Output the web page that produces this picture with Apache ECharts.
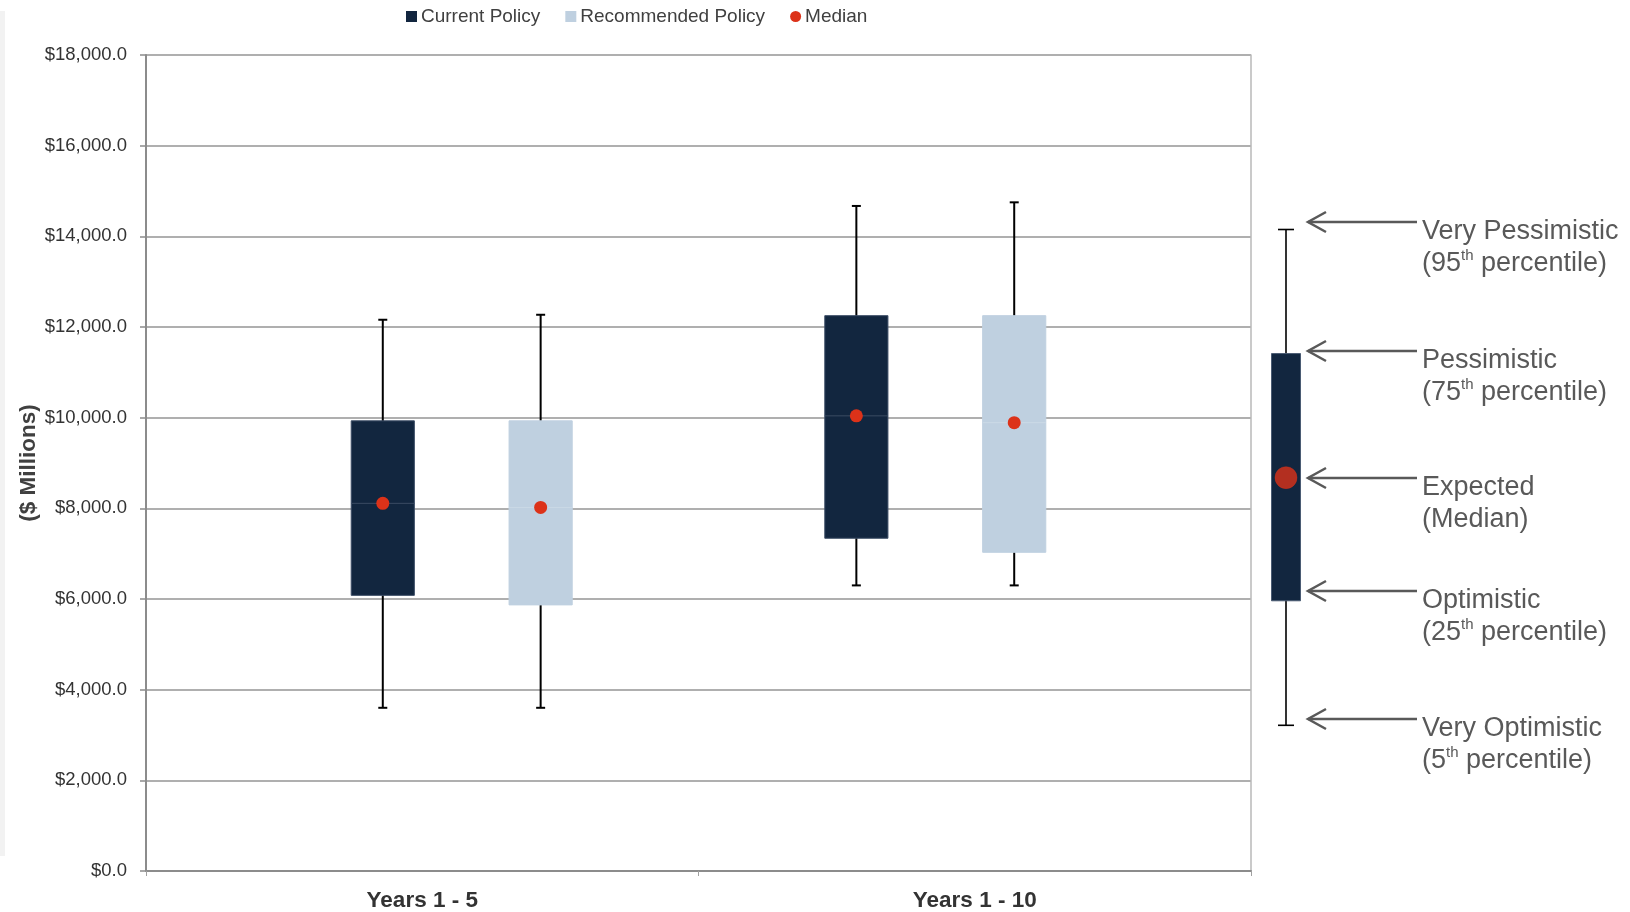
<!DOCTYPE html>
<html>
<head>
<meta charset="utf-8">
<title>Box plot</title>
<script src="https://cdn.jsdelivr.net/npm/echarts@6/dist/echarts.min.js"></script>
<style>
  html, body { margin: 0; padding: 0; background: #ffffff; }
  #chart { width: 1630px; height: 912px; }
</style>
</head>
<body>
<div id="chart"></div>
<script>
// ---------------- DATA ----------------
const categories = ['Years 1 - 5', 'Years 1 - 10'];
// box slots along the category axis (three slots per category plus padding)
const slotNames = ['pad-a', 'Years 1 - 5 Current', 'Years 1 - 5 Recommended', 'pad-b',
                   'Years 1 - 10 Current', 'Years 1 - 10 Recommended', 'pad-c'];
// [5th, 25th, median, 75th, 95th] percentile, $ millions
const currentPolicy     = [[3600, 6080, 8110, 9930, 12160], [6300, 7340, 10040, 12250, 14670]];
const recommendedPolicy = [[3600, 5870, 8020, 9930, 12270], [6300, 7030, 9890, 12250, 14750]];
const exampleBox        = [3250, 5990, 8700, 11430, 14160];
const yMin = 0, yMax = 18000, yInterval = 2000;
const seriesNames = ['Current Policy', 'Recommended Policy', 'Median'];
const annotationTexts = [
  'Very Pessimistic\n(95{sup|th} percentile)',
  'Pessimistic\n(75{sup|th} percentile)',
  'Expected\n(Median)',
  'Optimistic\n(25{sup|th} percentile)',
  'Very Optimistic\n(5{sup|th} percentile)'
];

// ---------------- STYLE / LAYOUT ----------------
const FONT = '"Liberation Sans", Arial, sans-serif';
const COL_CURRENT = '#12263F';
const COL_RECOMMENDED = '#BFD0E0';
const COL_MEDIAN = '#DC3219';
const GRID_TOP = 55, GRID_BOTTOM = 39;
const arrowYs = [222, 351, 478, 591, 719];

function boxRenderer(widthRatio, capHalf, whiskerWidth, fill, edge, medianLine) {
  return function (params, api) {
    const xi = api.value(0);
    const low = api.coord([xi, api.value(1)]);
    const q1 = api.coord([xi, api.value(2)]);
    const med = api.coord([xi, api.value(3)]);
    const q3 = api.coord([xi, api.value(4)]);
    const high = api.coord([xi, api.value(5)]);
    const bw = api.size([1, 0])[0] * widthRatio;
    const cx = low[0];
    const ws = { stroke: '#000000', lineWidth: whiskerWidth };
    const children = [
      { type: 'line', shape: { x1: cx, y1: high[1], x2: cx, y2: low[1] }, style: ws },
      { type: 'line', shape: { x1: cx - capHalf, y1: high[1], x2: cx + capHalf, y2: high[1] }, style: ws },
      { type: 'line', shape: { x1: cx - capHalf, y1: low[1], x2: cx + capHalf, y2: low[1] }, style: ws },
      { type: 'rect', shape: { x: cx - bw / 2, y: q3[1], width: bw, height: q1[1] - q3[1] },
        style: { fill: fill, stroke: edge, lineWidth: 1 } }
    ];
    if (medianLine) {
      children.push({ type: 'line', shape: { x1: cx - bw / 2, y1: med[1], x2: cx + bw / 2, y2: med[1] },
        style: { stroke: medianLine, lineWidth: 1 } });
    }
    return { type: 'group', children: children };
  };
}

const toBoxData = (arr, offset) => arr.map((d, i) => [slotNames[offset + 3 * i]].concat(d));
const medianData = currentPolicy.map((d, i) => [slotNames[1 + 3 * i], d[2]])
  .concat(recommendedPolicy.map((d, i) => [slotNames[2 + 3 * i], d[2]]));

const chart = echarts.init(document.getElementById('chart'), null, { renderer: 'canvas' });

const annotationGraphics = [];
arrowYs.forEach((y, i) => {
  annotationGraphics.push({
    type: 'polyline', silent: true,
    shape: { points: [[1417, y], [1308, y]] },
    style: { stroke: '#595959', lineWidth: 2.5, fill: null }
  });
  annotationGraphics.push({
    type: 'polyline', silent: true,
    shape: { points: [[1326, y - 10], [1308, y], [1326, y + 10]] },
    style: { stroke: '#595959', lineWidth: 2.5, fill: null }
  });
  annotationGraphics.push({
    type: 'text', silent: true, x: 1422, y: y - 6,
    style: {
      text: annotationTexts[i], fill: '#595959', fontSize: 27, fontFamily: FONT,
      lineHeight: 32, verticalAlign: 'top', align: 'left',
      rich: { sup: { fontSize: 15, fontFamily: FONT, fill: '#595959', lineHeight: 20, verticalAlign: 'top' } }
    }
  });
});
annotationGraphics.push({
  type: 'rect', silent: true, z: -10,
  shape: { x: 0, y: 11, width: 5, height: 845 },
  style: { fill: '#f2f2f2' }
});

const option = {
  backgroundColor: '#ffffff',
  animation: false,
  textStyle: { fontFamily: FONT },
  legend: {
    data: [
      { name: seriesNames[0], icon: 'rect' },
      { name: seriesNames[1], icon: 'rect' },
      { name: seriesNames[2], icon: 'circle' }
    ],
    left: 401, top: 2,
    itemWidth: 11, itemHeight: 11, itemGap: 25,
    textStyle: { fontSize: 19, color: '#404040', fontFamily: FONT, padding: [0, 0, 0, -1] }
  },
  grid: [
    { left: 146, right: 379, top: GRID_TOP, bottom: GRID_BOTTOM },
    { left: 1256, width: 60, top: GRID_TOP, bottom: GRID_BOTTOM }
  ],
  xAxis: [
    {
      type: 'category', gridIndex: 0, data: categories, boundaryGap: true,
      axisLine: { show: true, lineStyle: { color: '#8c8c8c', width: 2 } },
      axisTick: { show: true, length: 5, lineStyle: { color: '#a0a0a0', width: 1 } },
      axisLabel: { fontSize: 22.5, fontWeight: 'bold', color: '#333333', margin: 18, fontFamily: FONT },
      splitLine: { show: false }
    },
    { type: 'category', gridIndex: 0, data: slotNames, boundaryGap: true, show: false },
    { type: 'category', gridIndex: 1, data: ['example'], boundaryGap: true, show: false }
  ],
  yAxis: [
    {
      type: 'value', gridIndex: 0, min: yMin, max: yMax, interval: yInterval,
      name: '($ Millions)', nameLocation: 'middle', nameGap: 106, nameRotate: 90,
      nameMoveOverlap: false,
      nameTextStyle: { fontSize: 22.5, fontWeight: 'bold', color: '#404040', fontFamily: FONT },
      axisLine: { show: true, lineStyle: { color: '#8c8c8c', width: 2 } },
      axisTick: { show: true, length: 6, lineStyle: { color: '#8c8c8c', width: 1.5 } },
      axisLabel: {
        fontSize: 18.5, color: '#333333', margin: 19, fontFamily: FONT,
        formatter: v => '$' + v.toLocaleString('en-US', { minimumFractionDigits: 1, maximumFractionDigits: 1 })
      },
      splitLine: { show: true, lineStyle: { color: '#959595', width: 1.6 } }
    },
    {
      type: 'value', gridIndex: 1, min: yMin, max: yMax, interval: yInterval, show: false
    },
    {
      type: 'value', gridIndex: 0, min: yMin, max: yMax, interval: yInterval, position: 'right',
      axisLine: { show: true, lineStyle: { color: '#b8b8b8', width: 1.5 } },
      axisTick: { show: false }, axisLabel: { show: false }, splitLine: { show: false }
    }
  ],
  series: [
    {
      name: seriesNames[0], type: 'custom', xAxisIndex: 1, yAxisIndex: 0,
      itemStyle: { color: COL_CURRENT },
      encode: { x: 0, y: [1, 2, 3, 4, 5] },
      renderItem: boxRenderer(0.4, 4.5, 2, COL_CURRENT, '#3c4d66', '#3a4b63'),
      data: toBoxData(currentPolicy, 1), z: 3
    },
    {
      name: seriesNames[1], type: 'custom', xAxisIndex: 1, yAxisIndex: 0,
      itemStyle: { color: COL_RECOMMENDED },
      encode: { x: 0, y: [1, 2, 3, 4, 5] },
      renderItem: boxRenderer(0.4, 4.5, 2, COL_RECOMMENDED, COL_RECOMMENDED, '#cbd9e6'),
      data: toBoxData(recommendedPolicy, 2), z: 3
    },
    {
      name: seriesNames[2], type: 'scatter', xAxisIndex: 1, yAxisIndex: 0,
      symbol: 'circle', symbolSize: 13,
      itemStyle: { color: COL_MEDIAN, opacity: 1 },
      data: medianData, z: 5
    },
    {
      name: 'Example box', type: 'custom', xAxisIndex: 2, yAxisIndex: 1,
      itemStyle: { color: COL_CURRENT },
      encode: { x: 0, y: [1, 2, 3, 4, 5] },
      renderItem: boxRenderer(29 / 60, 8, 1.6, COL_CURRENT, '#4a5b73', null),
      data: [['example'].concat(exampleBox)], z: 3
    },
    {
      name: 'Example median', type: 'scatter', xAxisIndex: 2, yAxisIndex: 1,
      symbol: 'circle', symbolSize: 22,
      itemStyle: { color: COL_MEDIAN, borderColor: 'rgba(220,50,25,0.45)', borderWidth: 1 },
      data: [['example', exampleBox[2]]], z: 5
    }
  ],
  graphic: annotationGraphics
};

chart.setOption(option);
</script>
</body>
</html>
